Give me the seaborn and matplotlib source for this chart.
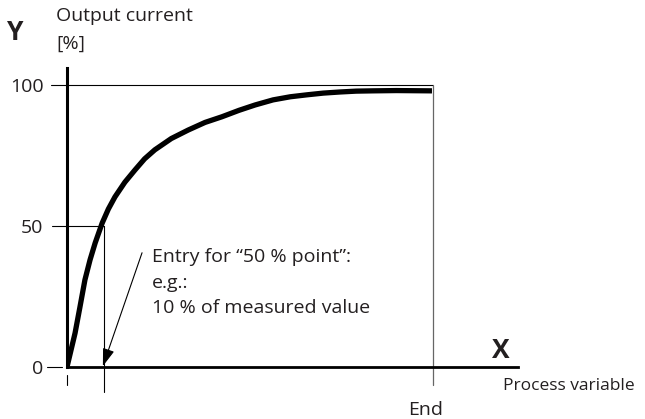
import matplotlib
matplotlib.use("Agg")
import matplotlib.pyplot as plt
import seaborn as sns
import pandas as pd

# --- data ---
x_pct = [0, 1.1, 2.2, 3.5, 4.9, 6.3, 7.7, 9.6, 11.3, 13.1, 15.8, 18.6, 21.2, 24.0, 28.5,
         33.1, 37.7, 42.3, 47.0, 51.4, 56.3, 61.0, 65.6, 70.0, 74.6, 79.0, 83.6, 90.0, 99.7]
y_pct = [0, 6, 12, 21, 30.9, 38, 44, 51, 56, 60.3, 65.5, 69.9, 73.8, 77, 81,
         84, 86.7, 88.7, 91, 92.9, 94.7, 95.8, 96.5, 97.1, 97.5, 97.8, 97.9, 98.0, 97.9]
ytick_vals = [0, 50, 100]
ytick_labels = ["0", "50", "100"]
point50_x = 10
end_x = 100
annotation_lines = ["Entry for \u201c50\u00a0% point\u201d:", "e.g.:", "10\u00a0% of measured value"]

sns.set_theme(style="white")
plt.rcParams["font.family"] = ["Open Sans", "DejaVu Sans"]
TXT = "#231f20"
FS = 14

W, H = 645, 419
fig = plt.figure(figsize=(W / 100, H / 100), dpi=100)
ax = fig.add_axes([67 / W, (H - 367) / H, 451 / W, 299 / H])

df = pd.DataFrame({"x": x_pct, "y": y_pct})
sns.lineplot(data=df, x="x", y="y", ax=ax, color="black", linewidth=3.8,
             sort=False, estimator=None)
for l in ax.lines:
    l.set_solid_capstyle("butt")
    l.set_solid_joinstyle("round")

ax.set_xlim(0, 123.2)
ax.set_ylim(0, 106.0)
ax.set_xlabel("")
ax.set_ylabel("")
ax.set_xticks([])
ax.set_yticks(ytick_vals)
ax.set_yticklabels(ytick_labels, fontsize=FS, color=TXT)
ax.tick_params(axis="y", length=0, pad=17)

for s in ["top", "right"]:
    ax.spines[s].set_visible(False)
ax.spines["left"].set_linewidth(2.2)
ax.spines["bottom"].set_linewidth(2.0)
ax.spines["left"].set_color("black")
ax.spines["bottom"].set_color("black")

thin = dict(color="black", linewidth=0.8, clip_on=False)
# reference lines
ax.plot([-4.4, end_x], [100, 100], **thin)
ax.plot([-4.1, point50_x], [50, 50], **thin)
ax.plot([-5.5, -1.4], [0, 0], **thin)
ax.plot([end_x, end_x], [100, -6.4], color="0.4", linewidth=0.9, clip_on=False)
ax.plot([point50_x, point50_x], [50, -8.9], **thin)
ax.plot([0, 0], [-2.8, -6.4], **thin)

# arrow
ax.annotate("", xy=(point50_x - 0.2, 0.3), xytext=(20.5, 40.5),
            arrowprops=dict(arrowstyle="-|>,head_length=0.9,head_width=0.3",
                            color="black", lw=0.8, shrinkA=0, shrinkB=0),
            annotation_clip=False)

for i, t in enumerate(annotation_lines):
    fig.text(152 / W, 1 - (257 + i * 25.5) / H, t, fontsize=FS, color=TXT,
             ha="left", va="center")

fig.text(7 / W, 1 - 33 / H, "Y", fontsize=19, fontweight="bold", color=TXT,
         ha="left", va="center")
fig.text(56 / W, 1 - 16 / H, "Output current", fontsize=FS, color=TXT,
         ha="left", va="center")
fig.text(56 / W, 1 - 44 / H, "[%]", fontsize=FS, color=TXT,
         ha="left", va="center")
fig.text(492 / W, 1 - 350 / H, "X", fontsize=19, fontweight="bold", color=TXT,
         ha="left", va="center")
fig.text(503 / W, 1 - 386 / H, "Process variable", fontsize=12.5, color=TXT,
         ha="left", va="center")
fig.text(426 / W, 1 - 410 / H, "End", fontsize=FS, color=TXT,
         ha="center", va="center")

fig.savefig("out.png", dpi=100)
